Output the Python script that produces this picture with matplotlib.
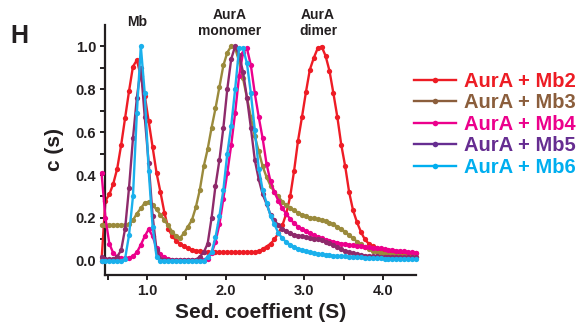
import numpy as np
import matplotlib
matplotlib.use("Agg")
import matplotlib.pyplot as plt
from matplotlib.lines import Line2D

plt.rcParams['font.family'] = ['Liberation Sans', 'DejaVu Sans']

# sedimentation coefficient grid (S)
sed = np.round(np.arange(0.42, 4.43, 0.05), 2)

mb2 = [0.0, 0.28, 0.31, 0.36, 0.43, 0.54, 0.665, 0.79, 0.905, 0.935,
       0.86, 0.77, 0.65, 0.53, 0.41, 0.32, 0.225, 0.15, 0.115, 0.095,
       0.08, 0.068, 0.058, 0.052, 0.048, 0.045, 0.043, 0.041, 0.04, 0.04,
       0.04, 0.04, 0.04, 0.04, 0.04, 0.04, 0.04, 0.04, 0.04, 0.041,
       0.045, 0.055, 0.067, 0.08, 0.10, 0.13, 0.165, 0.22, 0.30, 0.42,
       0.56, 0.67, 0.785, 0.89, 0.945, 0.99, 0.998, 0.955, 0.885, 0.78,
       0.67, 0.54, 0.44, 0.32, 0.235, 0.18, 0.135, 0.10, 0.08, 0.068,
       0.059, 0.053, 0.049, 0.046, 0.044, 0.042, 0.04, 0.039, 0.038, 0.037,
       0.036]
mb3 = [0.167, 0.167, 0.167, 0.167, 0.167, 0.167, 0.167, 0.17, 0.19, 0.22,
       0.245, 0.27, 0.275, 0.26, 0.24, 0.215, 0.19, 0.165, 0.135, 0.115,
       0.107, 0.13, 0.16, 0.19, 0.25, 0.33, 0.44, 0.52, 0.62, 0.71,
       0.81, 0.91, 0.97, 1.0, 0.99, 0.93, 0.85, 0.76, 0.67, 0.58,
       0.51, 0.44, 0.39, 0.35, 0.32, 0.30, 0.275, 0.26, 0.245, 0.235,
       0.225, 0.215, 0.208, 0.202, 0.198, 0.194, 0.19, 0.185, 0.178, 0.17,
       0.16, 0.148, 0.135, 0.12, 0.105, 0.09, 0.078, 0.065, 0.055, 0.048,
       0.042, 0.038, 0.034, 0.031, 0.029, 0.027, 0.025, 0.024, 0.022, 0.021,
       0.02]
mb4 = [0.41, 0.20, 0.08, 0.036, 0.02, 0.013, 0.012, 0.015, 0.022, 0.04,
       0.075, 0.115, 0.148, 0.115, 0.06, 0.03, 0.018, 0.01, 0.005, 0.003,
       0.003, 0.003, 0.003, 0.003, 0.003, 0.003, 0.004, 0.01, 0.035, 0.09,
       0.17, 0.29, 0.41, 0.54, 0.69, 0.86, 0.97, 0.99, 0.91, 0.78,
       0.67, 0.57, 0.45, 0.37, 0.32, 0.28, 0.245, 0.22, 0.195, 0.175,
       0.16, 0.148, 0.138, 0.128, 0.12, 0.112, 0.105, 0.099, 0.094, 0.089,
       0.085, 0.081, 0.078, 0.075, 0.072, 0.07, 0.068, 0.066, 0.064, 0.062,
       0.06, 0.058, 0.055, 0.053, 0.05, 0.048, 0.046, 0.044, 0.042, 0.04,
       0.039]
mb5 = [0.02, 0.01, 0.008, 0.01, 0.02, 0.05, 0.15, 0.34, 0.57, 0.76,
       0.90, 0.67, 0.455, 0.21, 0.05, 0.01, 0.005, 0.003, 0.003, 0.003,
       0.003, 0.003, 0.003, 0.003, 0.005, 0.02, 0.04, 0.08, 0.20, 0.35,
       0.47, 0.62, 0.80, 0.94, 1.0, 0.96, 0.88, 0.76, 0.62, 0.47,
       0.38, 0.31, 0.265, 0.215, 0.19, 0.165, 0.15, 0.138, 0.128, 0.122,
       0.118, 0.115, 0.112, 0.108, 0.104, 0.10, 0.096, 0.09, 0.082, 0.073,
       0.065, 0.055, 0.046, 0.04, 0.035, 0.03, 0.027, 0.025, 0.023, 0.022,
       0.021, 0.02, 0.02, 0.02, 0.019, 0.019, 0.018, 0.018, 0.017, 0.017,
       0.017]
mb6 = [0.0, 0.0, 0.0, 0.0, 0.0, 0.0, 0.01, 0.12, 0.30, 0.69,
       1.0, 0.78, 0.42, 0.16, 0.02, 0.0, 0.0, 0.0, 0.0, 0.0,
       0.0, 0.0, 0.0, 0.0, 0.0, 0.0, 0.0, 0.02, 0.04, 0.11,
       0.21, 0.33, 0.50, 0.63, 0.80, 0.99, 0.99, 0.92, 0.78, 0.61,
       0.43, 0.33, 0.27, 0.21, 0.17, 0.13, 0.105, 0.088, 0.075, 0.065,
       0.056, 0.05, 0.045, 0.04, 0.036, 0.033, 0.03, 0.028, 0.026, 0.024,
       0.023, 0.022, 0.021, 0.02, 0.018, 0.017, 0.016, 0.015, 0.014, 0.013,
       0.012, 0.012, 0.011, 0.011, 0.01, 0.01, 0.01, 0.009, 0.009, 0.008,
       0.008]

labels = ['AurA + Mb2', 'AurA + Mb3', 'AurA + Mb4', 'AurA + Mb5', 'AurA + Mb6']
line_colors = ['#ee1c25', '#9a8a3c', '#ec008c', '#8e2a6b', '#1ab0ec']
legend_colors = ['#ed1c24', '#8b5e3c', '#ec008c', '#662d91', '#00aeef']

fig = plt.figure(figsize=(5.84, 3.30), dpi=100)
ax = fig.add_axes([0.18, 0.167, 0.532, 0.757])

series = [mb2, mb3, mb4, mb5, mb6]
# draw order: olive, maroon, red, pink, blue
for i in [1, 3, 0, 2, 4]:
    ax.plot(sed, series[i], color=line_colors[i], lw=1.7, marker='o',
            ms=3.8, mew=0, clip_on=False, zorder=2 + i)

ax.set_xlim(0.466, 4.418)
ax.set_ylim(-0.065, 1.098)
ax.set_xticks([1, 2, 3, 4])
ax.set_xticklabels(['1.0', '2.0', '3.0', '4.0'])
ax.set_xticks([0.5, 1.5, 2.5, 3.5], minor=True)
ax.set_yticks([0.0, 0.2, 0.4, 0.6, 0.8, 1.0])
ax.set_yticklabels(['0.0', '0.2', '0.4', '0.6', '0.8', '1.0'])
ax.set_yticks([0.1, 0.3, 0.5, 0.7, 0.9], minor=True)
for side in ['top', 'right']:
    ax.spines[side].set_visible(False)
for side in ['left', 'bottom']:
    ax.spines[side].set_linewidth(1.6)
    ax.spines[side].set_color('#231f20')
ax.tick_params(which='both', direction='out', length=3.5, width=1.4,
               color='#231f20', labelsize=10.5, labelcolor='#231f20', pad=3)
for t in ax.get_xticklabels() + ax.get_yticklabels():
    t.set_fontweight('bold')

ax.set_xlabel('Sed. coeffient (S)', fontsize=15, fontweight='bold',
              color='#231f20', labelpad=4)
ax.set_ylabel('c (s)', fontsize=15, fontweight='bold', color='#231f20',
              labelpad=8)

fig.text(0.017, 1 - 24 / 330, 'H', fontsize=18, fontweight='bold',
         color='#231f20', va='top')

ann = dict(fontsize=10, fontweight='bold', color='#231f20', ha='center',
           va='center', linespacing=1.25)
fig.text(137 / 584, 1 - 22 / 330, 'Mb', **ann)
fig.text(230 / 584, 1 - 23 / 330, 'AurA\nmonomer', **ann)
fig.text(318 / 584, 1 - 23 / 330, 'AurA\ndimer', **ann)

handles = [Line2D([0], [0], color=c, lw=1.7, marker='o', ms=4, mew=0)
           for c in legend_colors]
fig.legend(handles, labels, loc='upper left',
           bbox_to_anchor=(414 / 584, 1 - 72 / 330), frameon=False,
           prop={'weight': 'bold', 'size': 14.5}, labelcolor=legend_colors,
           handlelength=2.1, handletextpad=0.4, labelspacing=0.12,
           borderpad=0, borderaxespad=0, numpoints=1)

fig.savefig('out.png', dpi=100)
